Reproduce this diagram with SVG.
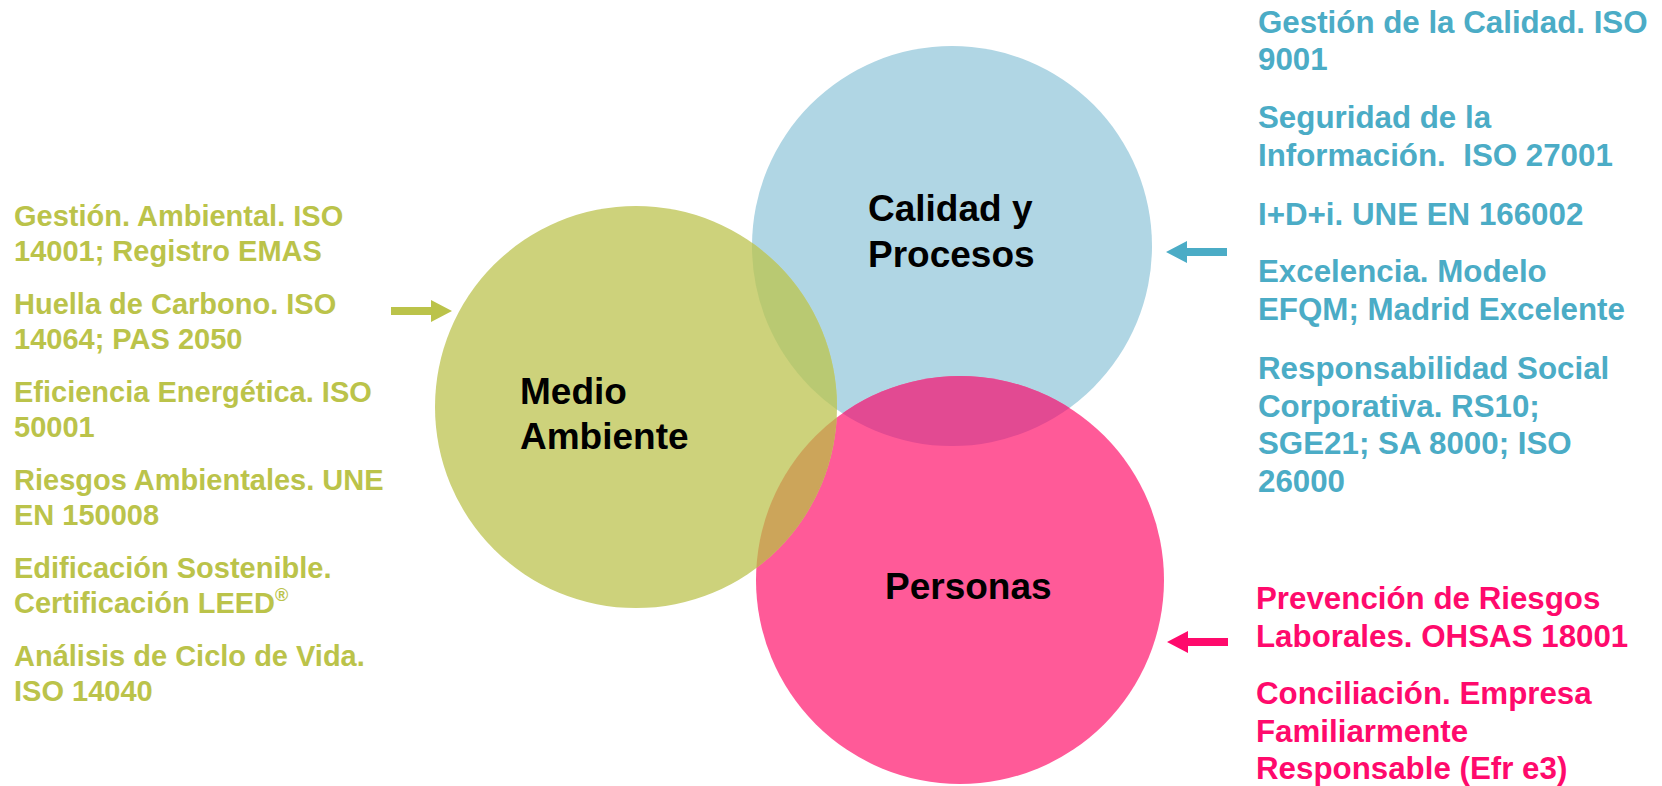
<svg xmlns="http://www.w3.org/2000/svg" width="1662" height="786" viewBox="0 0 1662 786">
<style>
text{font-family:"Liberation Sans",Arial,sans-serif;font-weight:bold}
.g{fill:#BBC34A;font-size:29px}
.b{fill:#4BACC6;font-size:31.3px}
.p{fill:#FF0A6C;font-size:31.3px}
.lbl{fill:#000;font-size:37px}
</style>
<defs>
<clipPath id="cg"><circle cx="636" cy="407" r="201"/></clipPath>
<clipPath id="cb"><circle cx="952" cy="246" r="200"/></clipPath>
</defs>
<rect width="1662" height="786" fill="#fff"/>
<g id="circles">
<circle cx="952" cy="246" r="200" fill="#B0D6E4"/>
<circle cx="960" cy="580" r="204" fill="#FF5A98"/>
<circle cx="636" cy="407" r="201" fill="#CDD27B"/>
<g clip-path="url(#cg)"><circle cx="952" cy="246" r="200" fill="#B9C972"/></g>
<g clip-path="url(#cb)"><circle cx="960" cy="580" r="204" fill="#E24A92"/></g>
<g clip-path="url(#cg)"><circle cx="960" cy="580" r="204" fill="#CCA55A"/></g>
</g>
<g id="node-medio"><text class="lbl" x="520" y="404">Medio</text><text class="lbl" x="520" y="449">Ambiente</text></g>
<g id="node-calidad"><text class="lbl" x="868" y="221">Calidad y</text><text class="lbl" x="868" y="267">Procesos</text></g>
<g id="node-personas"><text class="lbl" x="885" y="599">Personas</text></g>
<g id="connectors">
<path d="M391,307 H431 V300 L452,311 L431,322 V315 H391 Z" fill="#BBC34A"/>
<path d="M1227,248 H1187 V241 L1166,252 L1187,263 V256 H1227 Z" fill="#4BACC6"/>
<path d="M1228,638 H1188 V631 L1167,642 L1188,653 V646 H1228 Z" fill="#FF0A6C"/>
</g>
<g id="list-green">
<text class="g" x="14" y="226">Gestión. Ambiental. ISO</text>
<text class="g" x="14" y="261">14001; Registro EMAS</text>
<text class="g" x="14" y="314">Huella de Carbono. ISO</text>
<text class="g" x="14" y="349">14064; PAS 2050</text>
<text class="g" x="14" y="402">Eficiencia Energética. ISO</text>
<text class="g" x="14" y="437">50001</text>
<text class="g" x="14" y="490">Riesgos Ambientales. UNE</text>
<text class="g" x="14" y="525">EN 150008</text>
<text class="g" x="14" y="578">Edificación Sostenible.</text>
<text class="g" x="14" y="613">Certificación LEED<tspan font-size="18" dy="-12">®</tspan></text>
<text class="g" x="14" y="666">Análisis de Ciclo de Vida.</text>
<text class="g" x="14" y="701">ISO 14040</text>
</g>
<g id="list-blue">
<text class="b" x="1258" y="33">Gestión de la Calidad. ISO</text>
<text class="b" x="1258" y="70">9001</text>
<text class="b" x="1258" y="128">Seguridad de la</text>
<text class="b" x="1258" y="166" xml:space="preserve">Información.  ISO 27001</text>
<text class="b" x="1258" y="225">I+D+i. UNE EN 166002</text>
<text class="b" x="1258" y="282">Excelencia. Modelo</text>
<text class="b" x="1258" y="320">EFQM; Madrid Excelente</text>
<text class="b" x="1258" y="379">Responsabilidad Social</text>
<text class="b" x="1258" y="417">Corporativa. RS10;</text>
<text class="b" x="1258" y="454">SGE21; SA 8000; ISO</text>
<text class="b" x="1258" y="492">26000</text>
</g>
<g id="list-pink">
<text class="p" x="1256" y="609">Prevención de Riesgos</text>
<text class="p" x="1256" y="647">Laborales. OHSAS 18001</text>
<text class="p" x="1256" y="704">Conciliación. Empresa</text>
<text class="p" x="1256" y="742">Familiarmente</text>
<text class="p" x="1256" y="779">Responsable (Efr e3)</text>
</g>
</svg>
